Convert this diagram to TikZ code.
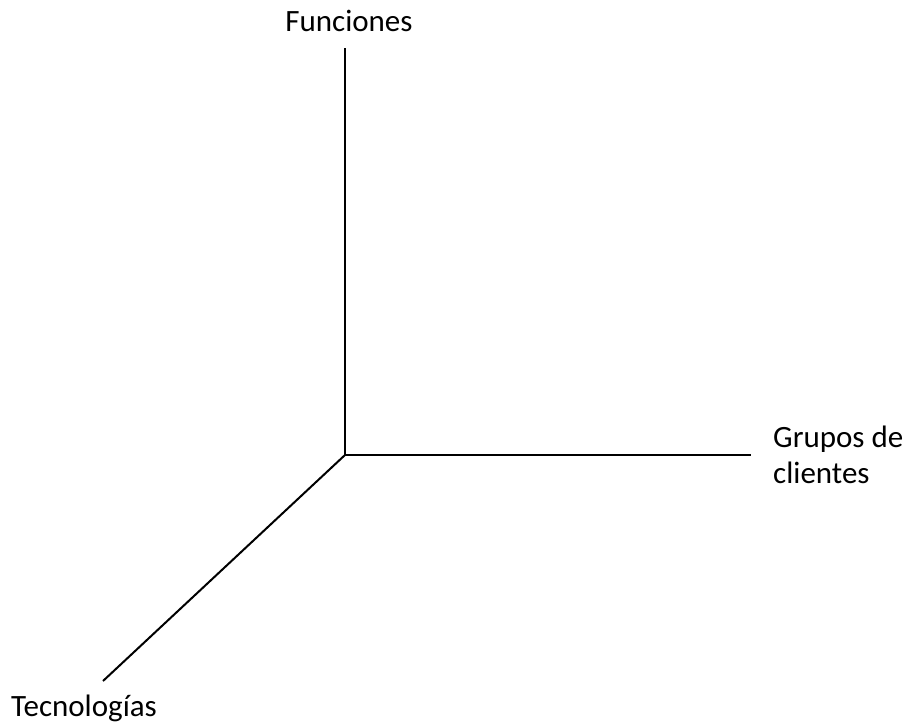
\documentclass[tikz,border=0pt]{standalone}
\usepackage{fontspec}
\setmainfont{Carlito}
\usetikzlibrary{positioning}

\begin{document}
\begin{tikzpicture}[x=1pt,y=-1pt]
[every node/.style={inner sep=0pt}]
\tikzset{axis/.style={line width=2pt, color=black},
  lbl/.style={font=\fontsize{31}{36}\selectfont, inner sep=0pt, align=left}}
\useasboundingbox (0,0) rectangle (907,722);
\coordinate (o) at (345, 455);
\coordinate (f) at (345, 48);
\coordinate (g) at (751, 455);
\coordinate (t) at (103, 681);
\node (fl) [lbl, anchor=base] at (349, 32) {Funciones};
\node (gl) [lbl, anchor=base west] at (773, 483) {Grupos de\\clientes};
\node (tl) [lbl, anchor=base west] at (11, 716) {Tecnologías};
\draw [axis] (o) to (f);
\draw [axis] (o) to (g);
\draw [axis] (o) to (t);
\end{tikzpicture}
\end{document}
